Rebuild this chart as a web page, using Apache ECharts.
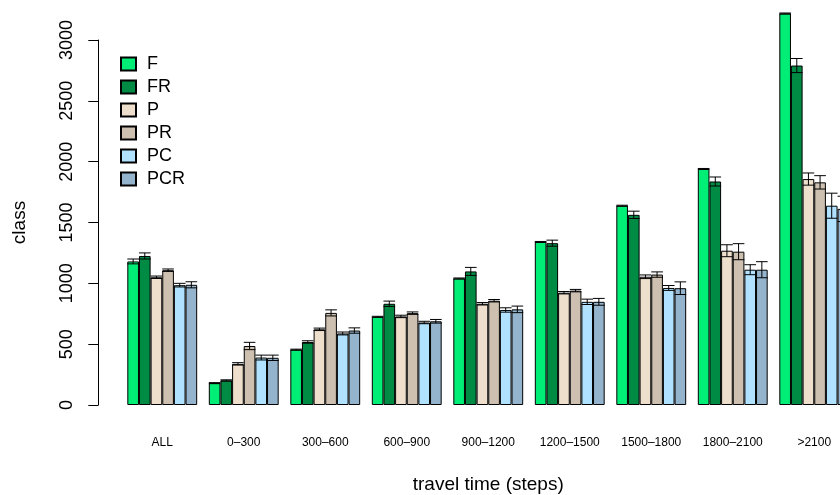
<!DOCTYPE html>
<html>
<head>
<meta charset="utf-8">
<script src="https://cdn.jsdelivr.net/npm/echarts@6/dist/echarts.min.js"></script>
<style>html,body{margin:0;padding:0;background:#fff;}#c{width:840px;height:495px;}</style>
</head>
<body>
<div id="c"></div>
<script>
var categories = ['ALL','0\u2013300','300\u2013600','600\u2013900','900\u20131200','1200\u20131500','1500\u20131800','1800\u20132100','>2100'];
var seriesNames = ['F','FR','P','PR','PC','PCR'];
var F   = [1180, 180, 455, 725, 1040, 1340, 1638, 1940, 3218];
var FR  = [1225, 202, 518, 832, 1098, 1330, 1563, 1837, 2790];
var P   = [1050, 338, 622, 728, 832, 923, 1054, 1268, 1857];
var PR  = [1108, 485, 757, 755, 857, 940, 1072, 1260, 1830];
var PC  = [985, 390, 588, 678, 781, 848, 962, 1112, 1638];
var PCR = [988, 388, 612, 688, 786, 848, 960, 1112, 1612];
var F_err   = [20, 4, 4, 4, 4, 4, 4, 4, 4];
var FR_err  = [25, 5, 10, 22, 33, 25, 30, 37, 58];
var P_err   = [10, 10, 10, 10, 10, 10, 15, 49, 50];
var PR_err  = [10, 30, 25, 10, 10, 10, 22, 66, 55];
var PC_err  = [15, 20, 12, 10, 18, 22, 20, 41, 103];
var PCR_err = [25, 22, 22, 15, 27, 28, 52, 66, 104];
var yTicks = [0, 500, 1000, 1500, 2000, 2500, 3000];

var means = [F, FR, P, PR, PC, PCR];
var errs = [F_err, FR_err, P_err, PR_err, PC_err, PCR_err];
var colors = ['#00EE76', '#008B45', '#EEDFCC', '#CDC0B0', '#B0E2FF', '#93B4CC'];
var FONT = '"Liberation Sans", Arial, Helvetica, sans-serif';

var chart = echarts.init(document.getElementById('c'), null, {renderer: 'canvas'});

function makeErr(i) {
  return function (params, api) {
    var idx = api.value(0), m = api.value(1), e = api.value(2);
    var cw = api.size([1, 0])[0];
    var bw = cw / 7;
    var p = api.coord([idx, m]);
    var x = p[0] + (i - 2.5) * bw;
    var y1 = api.coord([idx, m + e])[1];
    var y2 = api.coord([idx, m - e])[1];
    var h = bw / 2;
    var st = {stroke: '#000', lineWidth: 1};
    return {type: 'group', children: [
      {type: 'line', shape: {x1: x, y1: y1, x2: x, y2: y2}, style: st},
      {type: 'line', shape: {x1: x - h, y1: y1, x2: x + h, y2: y1}, style: st},
      {type: 'line', shape: {x1: x - h, y1: y2, x2: x + h, y2: y2}, style: st}
    ]};
  };
}

var series = [];
seriesNames.forEach(function (n, i) {
  series.push({
    name: n, type: 'bar', data: means[i], barGap: '0%', barCategoryGap: (100 / 7) + '%',
    clip: false,
    itemStyle: {color: colors[i], borderColor: '#000', borderWidth: 1},
    emphasis: {disabled: true}
  });
});
seriesNames.forEach(function (n, i) {
  series.push({
    name: n + '_err', type: 'custom', clip: false, z: 5,
    renderItem: makeErr(i),
    encode: {x: 0, y: 1},
    data: categories.map(function (c, j) { return [j, means[i][j], errs[i][j]]; })
  });
});

chart.setOption({
  animation: false,
  backgroundColor: '#fff',
  grid: {left: 121.5, top: 40, width: 733.5, height: 365, containLabel: false, outerBoundsMode: 'none'},
  legend: {
    data: seriesNames, orient: 'vertical', left: 115, top: 50,
    itemWidth: 15, itemHeight: 13, itemGap: 5, icon: 'rect',
    textStyle: {fontSize: 18, color: '#000', fontFamily: FONT, padding: [0, 0, 0, 6], lineHeight: 18}
  },
  xAxis: {
    type: 'category', data: categories,
    axisLine: {show: false}, axisTick: {show: false},
    axisLabel: {fontSize: 12, color: '#000', fontFamily: FONT, margin: 32, interval: 0},
    name: 'travel time (steps)', nameLocation: 'middle', nameGap: 70,
    nameTextStyle: {fontSize: 19, color: '#000', fontFamily: FONT}
  },
  yAxis: {
    type: 'value', min: 0, max: 3000, interval: 500, offset: 23.2,
    axisLine: {show: true, lineStyle: {color: '#000', width: 1}},
    axisTick: {show: true, length: 10, lineStyle: {color: '#000'}},
    splitLine: {show: false},
    axisLabel: {rotate: 90, fontSize: 18, color: '#000', fontFamily: FONT, margin: 22,
      formatter: function (v) { return String(v); }},
    name: 'class', nameLocation: 'middle', nameGap: 69, nameRotate: 90,
    nameTextStyle: {fontSize: 19, color: '#000', fontFamily: FONT}
  },
  series: series
});
</script>
</body>
</html>
